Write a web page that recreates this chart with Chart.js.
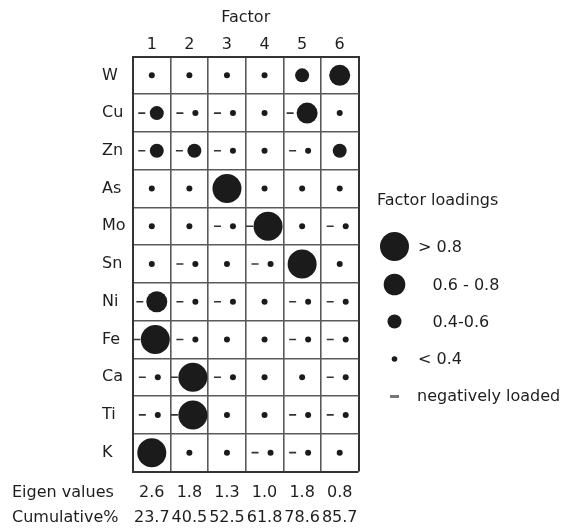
<!DOCTYPE html>
<html>
<head>
<meta charset="utf-8">
<script src="https://cdn.jsdelivr.net/npm/chart.js@4"></script>
<style>
  html, body { margin: 0; padding: 0; background: #fff; }
  #wrap { width: 570px; height: 530px; }
</style>
</head>
<body>
<div id="wrap"><canvas id="c" width="570" height="530"></canvas></div>
<script>
// ---- data ----
const factors = ['1', '2', '3', '4', '5', '6'];
const elements = ['W', 'Cu', 'Zn', 'As', 'Mo', 'Sn', 'Ni', 'Fe', 'Ca', 'Ti', 'K'];
// loading class per element (row) and factor (column):
// 1 = < 0.4, 2 = 0.4-0.6, 3 = 0.6-0.8, 4 = > 0.8; a minus sign marks a negative loading
const loadings = [
  [ 1,  1,  1,  1,  2,  3],
  [-2, -1, -1,  1, -3,  1],
  [-2, -2, -1,  1, -1,  2],
  [ 1,  1,  4,  1,  1,  1],
  [ 1,  1, -1, -4,  1, -1],
  [ 1, -1,  1, -1,  4,  1],
  [-3, -1, -1,  1, -1, -1],
  [-4, -1,  1,  1, -1, -1],
  [-1, -4, -1,  1,  1, -1],
  [-1, -4,  1,  1, -1, -1],
  [ 4,  1,  1, -1, -1,  1]
];
const eigenValues = ['2.6', '1.8', '1.3', '1.0', '1.8', '0.8'];
const cumulativePct = ['23.7', '40.5', '52.5', '61.8', '78.6', '85.7'];
const rowTitles = ['Eigen values', 'Cumulative%'];
const legendTitle = 'Factor loadings';
const legendClasses = [4, 3, 2, 1];
const legendLabels = ['> 0.8', '0.6 - 0.8', '0.4-0.6', '< 0.4'];
const negativeLabel = 'negatively loaded';

// ---- styles ----
const FONT = '"DejaVu Sans", sans-serif';
const TEXT = '#1e1e1e';
const INK = '#1b1b1b';
const RADIUS = [0, 3, 7, 10.5, 14.5];        // px per loading class
const NEG_SHIFT = [0, 6, 5, 5, 3.5];        // px the mark moves right when negative
const DASH_OFFSET = [0, -9.5, -10, -12, -15]; // px of the dash centre from the cell centre
const CELL_W = 37.6;                        // nominal cell width in px
const BOTTOM_LH = 25;

const circleData = [];
const dashData = [];
loadings.forEach((row, r) => {
  row.forEach((v, c) => {
    const cls = Math.abs(v);
    const neg = v < 0;
    circleData.push({ x: c + 1 + (neg ? NEG_SHIFT[cls] / CELL_W : 0), y: r + 1, r: RADIUS[cls] });
    if (neg) dashData.push({ x: c + 1 + DASH_OFFSET[cls] / CELL_W, y: r + 1, r: 3.5 });
  });
});

const half = (n) => Array.from({ length: 2 * n + 1 }, (_, i) => 0.5 + i * 0.5);
const isEdge = (v, max) => v === 0.5 || v === max + 0.5;

const sideText = {
  id: 'sideText',
  afterDraw(chart) {
    const ctx = chart.ctx;
    const x2 = chart.scales.x2;
    ctx.save();
    ctx.font = '16px ' + FONT;
    ctx.fillStyle = TEXT;
    ctx.textBaseline = 'middle';
    ctx.textAlign = 'left';
    const y0 = x2.top + x2.options.ticks.padding + BOTTOM_LH / 2;
    rowTitles.forEach((t, i) => ctx.fillText(t, 12, y0 + i * BOTTOM_LH));

    // legend
    ctx.fillText(legendTitle, 377, 201);
    const ys = [246.5, 284.5, 321.5, 359];
    const tx = [418, 432.5, 432.5, 418];
    legendClasses.forEach((cls, i) => {
      ctx.fillStyle = INK;
      ctx.beginPath();
      ctx.arc(394.5, ys[i], RADIUS[cls] === 3 ? 2.8 : (cls === 3 ? 10.8 : RADIUS[cls]), 0, Math.PI * 2);
      ctx.fill();
      ctx.fillStyle = TEXT;
      ctx.fillText(legendLabels[i], tx[i], ys[i] + 1);
    });
    ctx.fillStyle = '#777';
    ctx.fillRect(390, 395, 9, 3);
    ctx.fillStyle = TEXT;
    ctx.fillText(negativeLabel, 417, 397);
    ctx.restore();
  }
};

new Chart(document.getElementById('c'), {
  type: 'bubble',
  data: {
    datasets: [
      { data: circleData, backgroundColor: INK, borderWidth: 0, order: 1 },
      { data: dashData, pointStyle: 'line', borderColor: '#333', borderWidth: 1.6, order: 2 }
    ]
  },
  options: {
    responsive: false,
    animation: false,
    events: [],
    layout: { padding: { left: 102, right: 211.5, top: 0, bottom: 0 } },
    plugins: { legend: { display: false }, tooltip: { enabled: false } },
    scales: {
      x: {
        type: 'linear', position: 'top', min: 0.5, max: 6.5,
        afterBuildTicks: (s) => { s.ticks = half(6).map(v => ({ value: v })); },
        afterFit: (s) => { s.height = 56.5; },
        grid: {
          drawTicks: false,
          color: (c) => Number.isInteger(c.tick.value) ? 'rgba(0,0,0,0)' : (isEdge(c.tick.value, 6) ? '#333' : '#5a5a5a'),
          lineWidth: (c) => isEdge(c.tick.value, 6) ? 2 : 1.6
        },
        border: { color: '#333', width: 2 },
        ticks: {
          autoSkip: false, maxRotation: 0, padding: 2, color: TEXT,
          font: { family: FONT, size: 16 },
          callback: (v) => Number.isInteger(v) ? factors[v - 1] : ''
        },
        title: { display: true, text: 'Factor', color: TEXT, font: { family: FONT, size: 16 }, padding: { top: 8, bottom: 0 } }
      },
      x2: {
        type: 'linear', position: 'bottom', min: 0.5, max: 6.5,
        afterBuildTicks: (s) => { s.ticks = factors.map((_, i) => ({ value: i + 1 })); },
        afterFit: (s) => { s.height = 58.5; },
        grid: { display: false, drawTicks: false },
        border: { display: false },
        ticks: {
          autoSkip: false, maxRotation: 0, padding: 9, color: TEXT,
          font: { family: FONT, size: 16, lineHeight: BOTTOM_LH / 16 },
          callback: (v) => [eigenValues[v - 1], cumulativePct[v - 1]]
        }
      },
      y: {
        type: 'linear', position: 'left', min: 0.5, max: 11.5, reverse: true,
        afterBuildTicks: (s) => { s.ticks = half(11).map(v => ({ value: v })); },
        afterFit: (s) => { s.width = 31; },
        grid: {
          drawTicks: false,
          color: (c) => Number.isInteger(c.tick.value) ? 'rgba(0,0,0,0)' : (isEdge(c.tick.value, 11) ? '#333' : '#5a5a5a'),
          lineWidth: (c) => isEdge(c.tick.value, 11) ? 2 : 1.6
        },
        border: { color: '#333', width: 2 },
        ticks: {
          autoSkip: false, crossAlign: 'far', padding: 0, color: TEXT,
          font: { family: FONT, size: 16 },
          callback: (v) => Number.isInteger(v) ? elements[v - 1] : ''
        }
      }
    }
  },
  plugins: [sideText]
});
</script>
</body>
</html>
